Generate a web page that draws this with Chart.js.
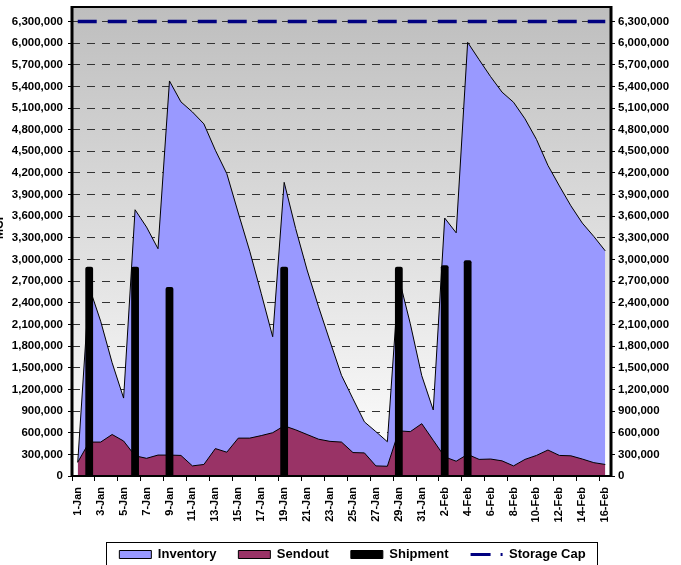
<!DOCTYPE html>
<html>
<head>
<meta charset="utf-8">
<script src="https://cdn.jsdelivr.net/npm/chart.js@4.4.1/dist/chart.umd.min.js"></script>
<style>
html,body{margin:0;padding:0;overflow:hidden;background:#fff;}
#wrap{position:relative;width:681px;height:571px;}
</style>
</head>
<body>
<div id="wrap"><canvas id="c" width="681" height="571"></canvas></div>
<script>
// ---- Data (MCF) ----
const categories = ['1-Jan','2-Jan','3-Jan','4-Jan','5-Jan','6-Jan','7-Jan','8-Jan','9-Jan','10-Jan',
  '11-Jan','12-Jan','13-Jan','14-Jan','15-Jan','16-Jan','17-Jan','18-Jan','19-Jan','20-Jan',
  '21-Jan','22-Jan','23-Jan','24-Jan','25-Jan','26-Jan','27-Jan','28-Jan','29-Jan','30-Jan','31-Jan',
  '1-Feb','2-Feb','3-Feb','4-Feb','5-Feb','6-Feb','7-Feb','8-Feb','9-Feb','10-Feb',
  '11-Feb','12-Feb','13-Feb','14-Feb','15-Feb','16-Feb'];

const inventory = [190000,2620000,2145000,1570000,1080000,3690000,3450000,3150000,5475000,5185000,
  5045000,4880000,4515000,4190000,3645000,3115000,2530000,1930000,4070000,3430000,
  2855000,2345000,1865000,1395000,1070000,750000,615000,475000,2750000,2110000,1390000,
  915000,3575000,3370000,6010000,5770000,5535000,5320000,5180000,4950000,4665000,
  4305000,4020000,3745000,3505000,3320000,3120000];

const sendout = [190000,470000,470000,575000,485000,280000,245000,290000,290000,285000,
  140000,160000,380000,330000,525000,525000,560000,600000,695000,640000,
  575000,510000,480000,470000,325000,320000,140000,135000,625000,615000,725000,
  495000,265000,205000,300000,230000,235000,210000,140000,230000,285000,
  360000,285000,280000,235000,185000,160000];

const shipment = [null,2900000,null,null,null,2900000,null,null,2620000,null,
  null,null,null,null,null,null,null,null,2900000,null,
  null,null,null,null,null,null,null,null,2900000,null,null,
  null,2920000,null,2990000,null,null,null,null,null,null,
  null,null,null,null,null,null];

const storageCapValue = 6300000;
const storageCap = categories.map(() => storageCapValue);

const yTickValues = [0,300000,600000,900000,1200000,1500000,1800000,2100000,2400000,2700000,
  3000000,3300000,3600000,3900000,4200000,4500000,4800000,5100000,5400000,5700000,6000000,6300000];

const FONT = 'Arial, "Liberation Sans", sans-serif';
Chart.defaults.font.family = FONT;
Chart.defaults.font.weight = 'bold';
Chart.defaults.color = '#000';

const LEGEND_PAD = 22;

const decor = {
  id: 'decor',
  beforeDraw(chart) {
    const {ctx, chartArea: a} = chart;
    const g = ctx.createLinearGradient(0, a.top, 0, a.bottom);
    g.addColorStop(0, '#BEBEBE');
    g.addColorStop(1, '#FFFFFF');
    ctx.save();
    ctx.fillStyle = g;
    ctx.fillRect(a.left, a.top, a.right - a.left, a.bottom - a.top);
    ctx.restore();
  },
  afterLayout(chart) {
    const lg = chart.legend;
    if (!lg) return;
    const d = 352.5 - (lg.left + lg.right) / 2;
    lg.left += d; lg.right += d;
  },
  afterDatasetsDraw(chart) {
    const {ctx, chartArea: a} = chart;
    ctx.save();
    ctx.strokeStyle = '#000';
    ctx.lineWidth = 3;
    ctx.beginPath();
    ctx.moveTo(a.left, a.bottom + 1); ctx.lineTo(a.left, a.top - 1);
    ctx.moveTo(a.right, a.top - 1); ctx.lineTo(a.right, a.bottom + 1);
    ctx.stroke();
    ctx.lineWidth = 2;
    ctx.beginPath();
    ctx.moveTo(a.left, a.top); ctx.lineTo(a.right, a.top);
    ctx.moveTo(a.left, a.bottom); ctx.lineTo(a.right, a.bottom);
    ctx.stroke();
    ctx.restore();
  },
  afterDraw(chart) {
    const {ctx} = chart;
    const lg = chart.legend;
    if (lg && lg.lineWidths && lg.lineWidths.length) {
      const lw = lg.lineWidths[0];
      const startX = (lg.left + LEGEND_PAD + lg.right - lw) / 2;
      const endX = startX + lw - LEGEND_PAD;
      const cy = lg.top + LEGEND_PAD + 6.5;
      ctx.save();
      ctx.strokeStyle = '#000';
      ctx.lineWidth = 1;
      ctx.strokeRect(Math.round(startX - 13) + 0.5, Math.round(cy - 13) + 0.5,
                     Math.round(endX - startX + 25), 60);
      ctx.restore();
    }
    // y-axis title (mostly outside the picture on the left)
    ctx.save();
    ctx.translate(0, 226);
    ctx.rotate(-Math.PI / 2);
    ctx.font = 'bold 12px ' + FONT;
    ctx.fillStyle = '#000';
    ctx.textAlign = 'center';
    ctx.textBaseline = 'middle';
    ctx.fillText('MCF', 0, 0);
    ctx.restore();
  }
};

const yTicksCfg = {
  font: {size: 11.5, weight: 'bold'},
  color: '#000',
  callback: v => Number(v).toLocaleString('en-US')
};

new Chart(document.getElementById('c'), {
  type: 'bar',
  data: {
    labels: categories,
    datasets: [
      {type: 'line', label: 'Inventory', data: inventory, backgroundColor: '#9999FF',
       borderColor: '#000', borderWidth: 1, fill: 'origin', pointRadius: 0, tension: 0, order: 4},
      {type: 'line', label: 'Sendout', data: sendout, backgroundColor: '#993366',
       borderColor: '#000', borderWidth: 1, fill: 'origin', pointRadius: 0, tension: 0, order: 3},
      {type: 'bar', label: 'Shipment', data: shipment, backgroundColor: '#000', borderWidth: 0,
       barPercentage: 0.68, categoryPercentage: 1, borderRadius: {topLeft: 2, topRight: 2}, order: 2},
      {type: 'line', label: 'Storage Cap', data: storageCap, borderColor: '#000080', borderWidth: 3.5,
       borderDash: [19, 11], pointRadius: 0, fill: false, order: 1}
    ]
  },
  options: {
    responsive: false,
    animation: false,
    events: [],
    layout: {padding: {top: 7, left: 0, right: 0, bottom: 0}},
    plugins: {
      tooltip: {enabled: false},
      legend: {
        position: 'bottom',
        labels: {
          usePointStyle: true,
          pointStyleWidth: 32,
          boxHeight: 8,
          padding: LEGEND_PAD,
          color: '#000',
          font: {size: 13, weight: 'bold'},
          generateLabels: (chart) => {
            const ds = chart.data.datasets;
            return [
              {text: ds[0].label, datasetIndex: 0, fillStyle: '#9999FF', strokeStyle: '#000', lineWidth: 1, pointStyle: 'rect', hidden: false, fontColor: '#000'},
              {text: ds[1].label, datasetIndex: 1, fillStyle: '#993366', strokeStyle: '#000', lineWidth: 1, pointStyle: 'rect', hidden: false, fontColor: '#000'},
              {text: ds[2].label, datasetIndex: 2, fillStyle: '#000', strokeStyle: '#000', lineWidth: 1, pointStyle: 'rect', hidden: false, fontColor: '#000'},
              {text: ds[3].label, datasetIndex: 3, fillStyle: '#000080', strokeStyle: '#000080', lineWidth: 3, lineDash: [20, 10, 3, 40], pointStyle: 'line', hidden: false, fontColor: '#000'}
            ];
          }
        }
      }
    },
    scales: {
      x: {
        offset: true,
        grid: {
          offset: true,
          drawOnChartArea: false,
          drawTicks: true,
          tickLength: 5,
          tickColor: c => (c.index % 2 === 0 ? '#000' : 'rgba(0,0,0,0)'),
          color: 'rgba(0,0,0,0)'
        },
        border: {display: false},
        ticks: {
          autoSkip: false, maxRotation: 90, minRotation: 90, padding: 6,
          font: {size: 11, weight: 'bold'}, color: '#000',
          callback: (v, i) => (i % 2 === 0 ? categories[i] : '')
        },
        afterFit: s => { s.height = 50; s.paddingLeft = 0; s.paddingRight = 0; }
      },
      y: {
        position: 'left', min: 0, max: 6500000,
        afterBuildTicks: s => { s.ticks = yTickValues.map(v => ({value: v})); },
        grid: {
          color: c => (c.tick && c.tick.value === 0 ? 'rgba(0,0,0,0)' : '#333'),
          lineWidth: 1, tickLength: 4, tickColor: '#000', tickBorderDash: []
        },
        border: {display: false, dash: [8, 7]},
        ticks: Object.assign({padding: 5}, yTicksCfg),
        afterFit: s => { s.width = 72; s.paddingTop = 0; s.paddingBottom = 0; }
      },
      y2: {
        position: 'right', min: 0, max: 6500000,
        afterBuildTicks: s => { s.ticks = yTickValues.map(v => ({value: v})); },
        grid: {drawOnChartArea: false, tickLength: 4, tickColor: '#000', color: '#000'},
        border: {display: false},
        ticks: Object.assign({padding: 3}, yTicksCfg),
        afterFit: s => { s.width = 70; s.paddingTop = 0; s.paddingBottom = 0; }
      }
    }
  },
  plugins: [decor]
});
</script>
</body>
</html>
